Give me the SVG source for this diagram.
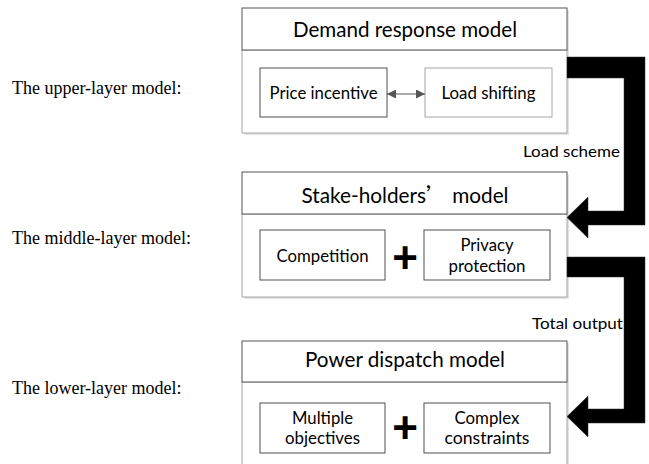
<svg xmlns="http://www.w3.org/2000/svg" width="649" height="464" viewBox="0 0 649 464">
<style>
.bg{fill:#ffffff}
.shadow{fill:#e3e3e3}
.hdr{fill:#ffffff;stroke:#555555;stroke-width:1}
.body{fill:#ffffff;stroke:#a6a6a6;stroke-width:1}
.inner{fill:#ffffff;stroke:#505050;stroke-width:1}
.innerl{fill:#ffffff;stroke:#a6a6a6;stroke-width:1}
.ht{font-family:Lato,"Liberation Sans",sans-serif;font-size:21px;fill:#000;text-anchor:middle}
.it{font-family:Lato,"Liberation Sans",sans-serif;font-size:17px;fill:#000;text-anchor:middle}
.lt{font-family:Lato,"Liberation Sans",sans-serif;font-size:16px;fill:#000;text-anchor:end}
.side{font-family:"Liberation Serif","Times New Roman",serif;font-size:18px;fill:#000}
.plus{font-family:"Liberation Sans",Arial,sans-serif;font-weight:bold;font-size:44px;fill:#000;text-anchor:middle}
.conn{fill:#000;stroke:#333;stroke-width:0.5}
</style>
<defs>
<marker id="ah" viewBox="0 0 10 10" refX="10" refY="5" markerWidth="9" markerHeight="9" markerUnits="userSpaceOnUse" orient="auto-start-reverse">
<path d="M0,0 L10,5 L0,10 Z" fill="#555555"/>
</marker>
</defs>
<rect class="bg" x="0" y="0" width="649" height="464"/>

<text class="side" x="12" y="94">The upper-layer model:</text>
<text class="side" x="12" y="244">The middle-layer model:</text>
<text class="side" x="12" y="394">The lower-layer model:</text>

<g id="upper">
<rect class="shadow" x="244" y="10" width="325" height="125"/>
<rect class="body" x="242" y="50" width="325" height="83"/>
<rect class="hdr" x="242" y="8" width="325" height="42"/>
<text class="ht" x="405" y="37" textLength="224" lengthAdjust="spacingAndGlyphs">Demand response model</text>
</g>
<g id="price-incentive">
<rect class="inner" x="260" y="68" width="127" height="49"/>
<text class="it" x="323.5" y="99" textLength="108" lengthAdjust="spacingAndGlyphs">Price incentive</text>
</g>
<g id="load-shifting">
<rect class="innerl" x="425" y="68" width="127" height="49"/>
<text class="it" x="488.5" y="99" textLength="94" lengthAdjust="spacingAndGlyphs">Load shifting</text>
</g>

<g id="middle">
<rect class="shadow" x="244" y="174" width="325" height="125"/>
<rect class="body" x="242" y="214" width="325" height="83"/>
<rect class="hdr" x="242" y="172" width="325" height="42"/>
<text class="ht" x="405" y="203" textLength="207" lengthAdjust="spacingAndGlyphs">Stake-holders<tspan font-family="'Noto Sans CJK SC',sans-serif">’</tspan> model</text>
</g>
<g id="competition">
<rect class="inner" x="260" y="230" width="125" height="50"/>
<text class="it" x="322.5" y="262" textLength="92" lengthAdjust="spacingAndGlyphs">Competition</text>
</g>
<g id="privacy-protection">
<rect class="inner" x="424" y="230" width="126" height="50"/>
<text class="it" x="487" y="251" textLength="53" lengthAdjust="spacingAndGlyphs">Privacy</text>
<text class="it" x="487" y="272" textLength="77" lengthAdjust="spacingAndGlyphs">protection</text>
</g>
<text class="plus" x="405" y="273">+</text>

<g id="lower">
<rect class="shadow" x="244" y="343" width="325" height="130"/>
<rect class="body" x="242" y="382" width="325" height="90"/>
<rect class="hdr" x="242" y="341" width="325" height="41"/>
<text class="ht" x="405" y="367" textLength="200" lengthAdjust="spacingAndGlyphs">Power dispatch model</text>
</g>
<g id="multiple-objectives">
<rect class="inner" x="260" y="403" width="125" height="50"/>
<text class="it" x="322.5" y="424" textLength="61" lengthAdjust="spacingAndGlyphs">Multiple</text>
<text class="it" x="322.5" y="444" textLength="75" lengthAdjust="spacingAndGlyphs">objectives</text>
</g>
<g id="complex-constraints">
<rect class="inner" x="424" y="403" width="126" height="50"/>
<text class="it" x="487" y="424" textLength="65" lengthAdjust="spacingAndGlyphs">Complex</text>
<text class="it" x="487" y="444" textLength="85" lengthAdjust="spacingAndGlyphs">constraints</text>
</g>
<text class="plus" x="405" y="443">+</text>

<g id="connectors">
<line x1="387" y1="94" x2="425" y2="94" stroke="#555555" stroke-width="1.2" marker-start="url(#ah)" marker-end="url(#ah)"/>
<path class="conn" d="M567,57 H645 V225 H588 V238 L567,217.5 L588,197 V211 H624 V78 H567 Z"/>
<text class="lt" x="620" y="157" textLength="97" lengthAdjust="spacingAndGlyphs">Load scheme</text>
<path class="conn" d="M567,257 H645 V423 H588 V437 L567,416.5 L588,396 V409 H624 V277 H567 Z"/>
<text class="lt" x="623" y="329" textLength="91" lengthAdjust="spacingAndGlyphs">Total output</text>
</g>
</svg>
